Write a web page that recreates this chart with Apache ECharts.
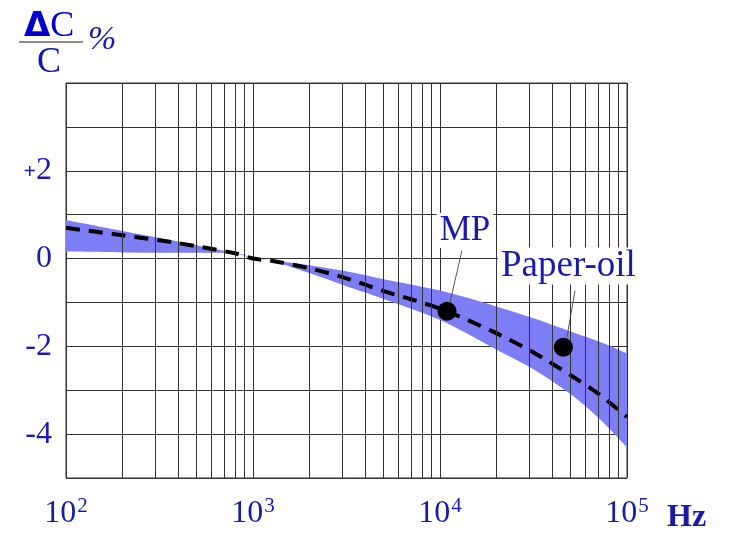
<!DOCTYPE html>
<html>
<head>
<meta charset="utf-8">
<script src="https://cdn.jsdelivr.net/npm/echarts@6/dist/echarts.min.js"></script>
<style>html,body{margin:0;padding:0;background:#fff}#c{width:734px;height:548px}</style>
</head>
<body>
<div id="c"></div>
<script>
// ---- data ----
const freqs      = [100, 200, 400, 800, 1000, 1250, 2000, 3160, 5000, 10000, 20000, 31600, 50000, 70800, 100000];
const upperBound = [0.88, 0.63, 0.39, 0.12, 0.00, -0.04, -0.15, -0.29, -0.47, -0.73, -1.09, -1.36, -1.66, -1.89, -2.16];
const lowerBound = [0.16, 0.14, 0.13, 0.12, 0.00, -0.05, -0.33, -0.63, -0.92, -1.40, -2.07, -2.52, -3.09, -3.64, -4.30];
const typical    = [0.70, 0.53, 0.35, 0.12, 0.00, -0.05, -0.22, -0.45, -0.74, -1.14, -1.70, -2.14, -2.66, -3.09, -3.61];
const dotNames   = ['MP', 'Paper-oil'];
const dotPoints  = [[10900, -1.20], [45700, -2.02]];
const labelPoints = [[13600, 0.64], [48600, -0.17]];
const leaderMP    = [[13100, 0.18], [11300, -1.00]];
const leaderPO    = [[52700, -0.73], [47700, -1.80]];
const minorGrid  = [200,300,400,500,600,700,800,900,2000,3000,4000,5000,6000,7000,8000,9000,20000,30000,40000,50000,60000,70000,80000,90000];
const yLabels    = {'2': '{p|+}{n|2}', '0': '{n|0}', '-2': '{n|-2}', '-4': '{n|-4}'};

const BLUE = '#1a1aa6';
const SERIF = '"Liberation Serif", "DejaVu Serif", serif';

// Catmull-Rom path through pixel points (drawing helper only)
function smoothSeg(pts, moveFirst) {
  let d = moveFirst ? 'M' + pts[0][0] + ',' + pts[0][1] : 'L' + pts[0][0] + ',' + pts[0][1];
  for (let i = 0; i < pts.length - 1; i++) {
    const p0 = pts[Math.max(0, i - 1)], p1 = pts[i], p2 = pts[i + 1], p3 = pts[Math.min(pts.length - 1, i + 2)];
    const c1x = p1[0] + (p2[0] - p0[0]) / 6, c1y = p1[1] + (p2[1] - p0[1]) / 6;
    const c2x = p2[0] - (p3[0] - p1[0]) / 6, c2y = p2[1] - (p3[1] - p1[1]) / 6;
    d += 'C' + c1x + ',' + c1y + ' ' + c2x + ',' + c2y + ' ' + p2[0] + ',' + p2[1];
  }
  return d;
}

const chart = echarts.init(document.getElementById('c'));

chart.setOption({
  animation: false,
  backgroundColor: '#fff',
  grid: { left: 66, top: 83, width: 561, height: 395, show: true, borderColor: '#333', borderWidth: 1 },
  xAxis: {
    type: 'log', logBase: 10, min: 100, max: 100000,
    axisLine: { show: true, lineStyle: { color: '#333' } },
    axisTick: { show: false },
    splitLine: { show: true, lineStyle: { color: '#333', width: 1 } },
    axisLabel: {
      margin: 18,
      formatter: v => '{b|10}{s|' + Math.round(Math.log10(v)) + '}',
      rich: {
        b: { fontSize: 32, fontFamily: SERIF, color: BLUE, lineHeight: 34, verticalAlign: 'bottom' },
        s: { fontSize: 21, fontFamily: SERIF, color: BLUE, lineHeight: 34, verticalAlign: 'top', padding: [0, 0, 14, 1] }
      }
    }
  },
  yAxis: {
    type: 'value', min: -5, max: 4, interval: 1,
    axisLine: { show: true, lineStyle: { color: '#333' } },
    axisTick: { show: false },
    splitLine: { show: true, lineStyle: { color: '#333', width: 1 } },
    axisLabel: {
      margin: 14,
      formatter: v => yLabels[String(v)] || '',
      rich: {
        n: { fontSize: 32, fontFamily: SERIF, color: BLUE, lineHeight: 34 },
        p: { fontSize: 22, fontFamily: SERIF, color: BLUE, fontWeight: 'bold', lineHeight: 34, verticalAlign: 'middle', padding: [3, 0, 0, 0] }
      }
    }
  },
  graphic: [
    { type: 'text', left: 24, top: 9, z: 10, style: { text: '{d|Δ}{c|C}', rich: {
        d: { fontSize: 34, fontFamily: '"DejaVu Sans", sans-serif', fontWeight: 'bold', fill: '#0000cc' },
        c: { fontSize: 36, fontFamily: SERIF, fill: '#0000cc' } } } },
    { type: 'line', z: 10, shape: { x1: 19, y1: 42, x2: 83, y2: 42 }, style: { stroke: '#666', lineWidth: 1.5 } },
    { type: 'text', left: 37, top: 45, z: 10, style: { text: 'C', fontSize: 36, fontFamily: SERIF, fill: '#1414b0' } },
    { type: 'text', left: 88, top: 23, z: 10, style: { text: '%', fontSize: 34, fontStyle: 'italic', fontFamily: SERIF, fill: BLUE } },
    { type: 'text', left: 667, top: 502, z: 10, style: { text: 'Hz', fontSize: 32, fontWeight: 'bold', fontFamily: SERIF, fill: BLUE } }
  ],
  series: [
    {
      name: 'grid', type: 'line', data: [], z: 1, silent: true,
      markLine: {
        silent: true, symbol: 'none', label: { show: false }, animation: false,
        lineStyle: { color: '#333', width: 1, type: 'solid' },
        data: minorGrid.map(v => ({ xAxis: v }))
      }
    },
    {
      name: 'band', type: 'custom', z: 2, silent: true,
      data: freqs.map((f, i) => [f, upperBound[i], lowerBound[i]]),
      encode: { x: 0, y: [1, 2] },
      renderItem: function (params, api) {
        if (params.dataIndex !== 0) return null;
        const up = freqs.map((f, i) => api.coord([f, upperBound[i]]));
        const lo = freqs.map((f, i) => api.coord([f, lowerBound[i]])).reverse();
        const d = smoothSeg(up, true) + smoothSeg(lo, false) + 'Z';
        return { type: 'path', shape: { pathData: d }, style: { fill: '#7d7df5', stroke: null } };
      }
    },
    {
      name: 'typical', type: 'line', z: 3,
      data: freqs.map((f, i) => [f, typical[i]]),
      smooth: 0.3, symbol: 'none',
      lineStyle: { color: '#000', width: 4, type: [14, 9] }
    },
    {
      name: 'leaderMP', type: 'line', z: 4, data: leaderMP, symbol: 'none',
      lineStyle: { color: '#555', width: 1 }
    },
    {
      name: 'leaderPO', type: 'line', z: 4, data: leaderPO, symbol: 'none',
      lineStyle: { color: '#555', width: 1 }
    },
    {
      name: 'dots', type: 'scatter', z: 5, data: dotPoints, symbolSize: 19,
      itemStyle: { color: '#000', opacity: 1 }
    },
    {
      name: 'labels', type: 'scatter', z: 6, symbolSize: 1, itemStyle: { color: 'rgba(0,0,0,0)', opacity: 1 },
      data: labelPoints.map((p, i) => ({ value: p, name: dotNames[i], label: { fontSize: i === 0 ? 35 : 37 } })),
      label: {
        show: true, position: 'inside', formatter: p => p.name, opacity: 1,
        fontSize: 35, fontFamily: SERIF, color: BLUE,
        backgroundColor: '#fff', padding: [0, 3, 0, 3]
      }
    }
  ]
});
</script>
</body>
</html>
